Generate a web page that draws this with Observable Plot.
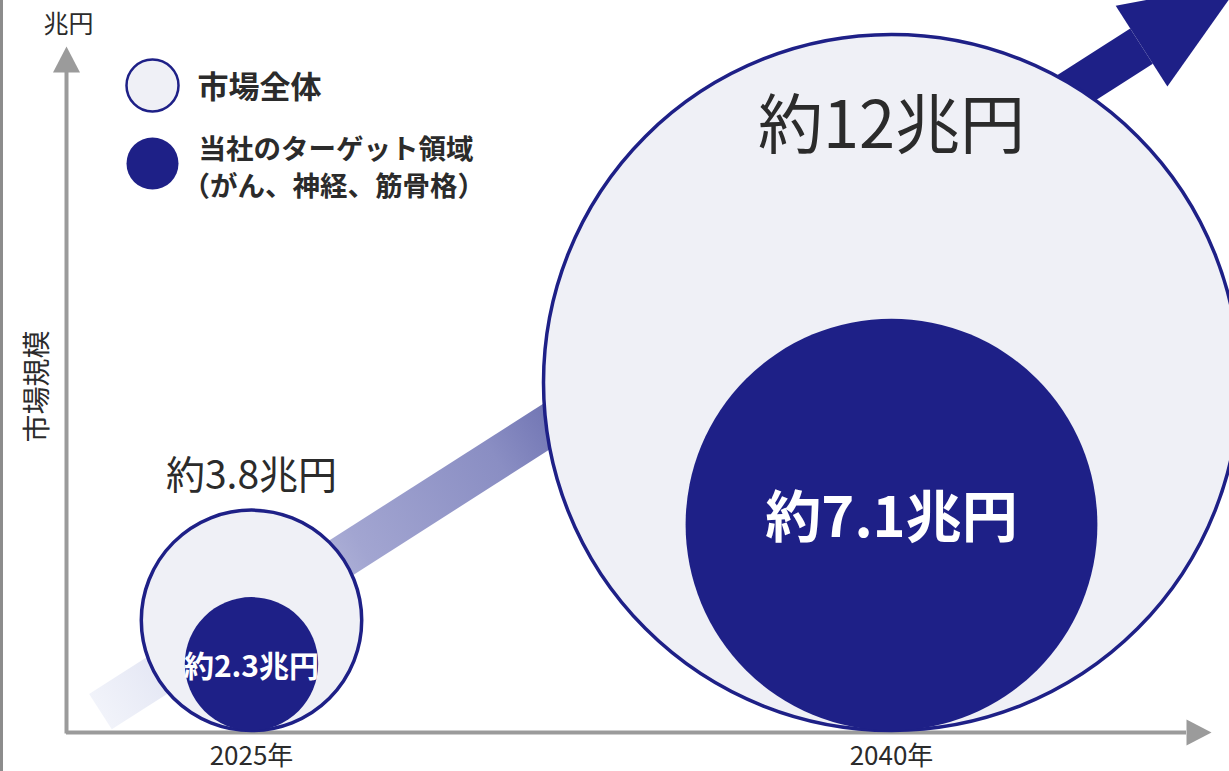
<!DOCTYPE html>
<html><head><meta charset="utf-8">
<script src="https://cdn.jsdelivr.net/npm/d3@7"></script>
<script src="https://cdn.jsdelivr.net/npm/@observablehq/plot@0.6"></script>
<style>
html,body{margin:0;padding:0;background:#fff;}
#chart{width:1229px;height:771px;overflow:hidden;}
#chart svg{display:block;overflow:hidden;}
</style></head><body><div id="chart"></div>
<script>
// ---- data ----
const years = [2025, 2040];
const yearLabels = ["2025年", "2040年"];
const totalMarket = [3.8, 12];       // 市場全体 (兆円)
const targetMarket = [2.3, 7.1];     // 当社のターゲット領域 (兆円)
const totalLabels = ["約3.8兆円", "約12兆円"];
const targetLabels = ["約2.3兆円", "約7.1兆円"];
const legendLabels = ["市場全体", "当社のターゲット領域", "（がん、神経、筋骨格）"];
const unitLabel = "兆円";
const yAxisLabel = "市場規模";
// decorative growth trend arrow (year, 兆円)
const trendYears = [2021.46, 2045.86];
const trendValues = [0.65, 23.6];

// ---- styles / layout ----
const NAVY = "#1e2087", LIGHT = "#eff0f6", GRAY = "#9b9b9b", TEXT = "#2b2b2b";
const W = 1229, H = 771;
const pxPerUnit = 29;          // px per 兆円 (radius and height share it)
const baseY = 730;             // pixel of 0 兆円
const xPx = [251, 891];        // pixels of the two years
const pxPerYear = (xPx[1] - xPx[0]) / (years[1] - years[0]);
const px2year = p => years[0] + (p - xPx[0]) / pxPerYear;
const px2val = p => (baseY - p) / pxPerUnit;

const rows = years.map((year, i) => ({
  i, year, label: yearLabels[i], total: totalMarket[i], target: targetMarket[i],
  totalLabel: totalLabels[i], targetLabel: targetLabels[i]
}));
const trend = trendYears.map((year, i) => ({year, value: trendValues[i]}));

// arrowhead symbol: origin at base centre, pointing up
const headSymbol = (base, len) => ({
  draw(ctx) { ctx.moveTo(-base / 2, 0); ctx.lineTo(0, -len); ctx.lineTo(base / 2, 0); ctx.closePath(); }
});
const dxp = (trend[1].year - trend[0].year) * pxPerYear;
const dyp = (trend[1].value - trend[0].value) * pxPerUnit;
const trendAngle = Math.atan2(dxp, dyp) * 180 / Math.PI;

const axisX0 = px2year(66), axisXEnd = px2year(1186), axisYEnd = px2val(72);
const font = '"Noto Sans CJK JP", "Noto Sans", sans-serif';

const plot = Plot.plot({
  width: W, height: H,
  marginTop: 0, marginRight: 0, marginBottom: 0, marginLeft: 0,
  style: {fontFamily: font, background: "#fff"},
  x: {domain: years, range: xPx, axis: null},
  y: {domain: [0, 12], range: [baseY, baseY - 12 * pxPerUnit], axis: null},
  r: {type: "linear", domain: [0, 12], range: [0, 12 * pxPerUnit]},
  marks: [
    Plot.frame({anchor: "left", stroke: "#8c8c8c", strokeWidth: 5}),
    // axes
    Plot.ruleY([0], {x1: axisX0, x2: axisXEnd, stroke: GRAY, strokeWidth: 4, dy: 2}),
    Plot.ruleX([axisX0], {y1: -0.12, y2: axisYEnd, stroke: GRAY, strokeWidth: 4}),
    Plot.dot([0], {x: axisXEnd, y: 0, dy: 2, symbol: headSymbol(26, 25), r: 1, fill: GRAY, rotate: 90}),
    Plot.dot([0], {x: axisX0, y: axisYEnd, symbol: headSymbol(27, 26), r: 1, fill: GRAY}),
    Plot.text([unitLabel], {x: px2year(68), y: px2val(24), text: d => d, fontSize: 25, fill: TEXT}),
    Plot.text([yAxisLabel], {x: px2year(38), y: px2val(386), text: d => d, rotate: -90, fontSize: 28, fill: TEXT}),
    Plot.text(rows, {x: "year", y: 0, text: "label", dy: 26, fontSize: 26, fill: TEXT}),
    // trend arrow
    Plot.line(trend, {x: "year", y: "value", stroke: "url(#trendGrad)", strokeWidth: 42, strokeLinecap: "butt"}),
    Plot.dot([trend[1]], {x: "year", y: "value", symbol: headSymbol(96, 118), r: 1, fill: NAVY, rotate: trendAngle}),
    // circles
    Plot.dot(rows, {x: "year", y: "total", r: "total", fill: LIGHT, stroke: NAVY, strokeWidth: 3.5}),
    Plot.dot(rows, {x: "year", y: "target", r: "target", fill: NAVY}),
    // value labels
    Plot.text(rows.filter(d => d.i === 0), {x: "year", y: d => 2 * d.total, text: "totalLabel", dy: -34, fontSize: 39, fill: TEXT}),
    Plot.text(rows.filter(d => d.i === 1), {x: "year", y: "total", text: "totalLabel", dy: -255, fontSize: 65, fill: TEXT}),
    Plot.text(rows.filter(d => d.i === 0), {x: "year", y: "target", text: "targetLabel", dy: 4, fontSize: 30, fontWeight: "bold", fill: "#fff"}),
    Plot.text(rows.filter(d => d.i === 1), {x: "year", y: "target", text: "targetLabel", dy: -6, fontSize: 56, fontWeight: "bold", fill: "#fff"}),
    // legend
    Plot.dot([0], {x: px2year(152), y: px2val(85), r: 26, fill: LIGHT, stroke: NAVY, strokeWidth: 2.5}),
    Plot.dot([0], {x: px2year(152), y: px2val(163), r: 26, fill: NAVY}),
    Plot.text([legendLabels[0]], {x: px2year(197), y: px2val(88), text: d => d, textAnchor: "start", fontSize: 31, fontWeight: "bold", fill: TEXT}),
    Plot.text([legendLabels[1]], {x: px2year(198), y: px2val(150), text: d => d, textAnchor: "start", fontSize: 27.5, fontWeight: "bold", fill: TEXT}),
    Plot.text([legendLabels[2]], {x: px2year(182), y: px2val(187), text: d => d, textAnchor: "start", fontSize: 27.5, fontWeight: "bold", fill: TEXT})
  ]
});

// gradient for the trend band
const sx = plot.scale("x").apply, sy = plot.scale("y").apply;
const defs = d3.select(plot).insert("defs", ":first-child");
const grad = defs.append("linearGradient").attr("id", "trendGrad")
  .attr("gradientUnits", "userSpaceOnUse")
  .attr("x1", sx(trend[0].year)).attr("y1", sy(trend[0].value))
  .attr("x2", sx(trend[1].year)).attr("y2", sy(trend[1].value));
[[0, "#f1f3fa"], [0.1, "#dcdff0"], [0.25, "#a2a5d1"], [0.38, "#8a8ec3"], [0.43, "#7579b6"], [0.7, "#3a3c98"], [0.9, NAVY], [1, NAVY]]
  .forEach(([o, c]) => grad.append("stop").attr("offset", o).attr("stop-color", c));

document.getElementById("chart").appendChild(plot);
</script></body></html>
